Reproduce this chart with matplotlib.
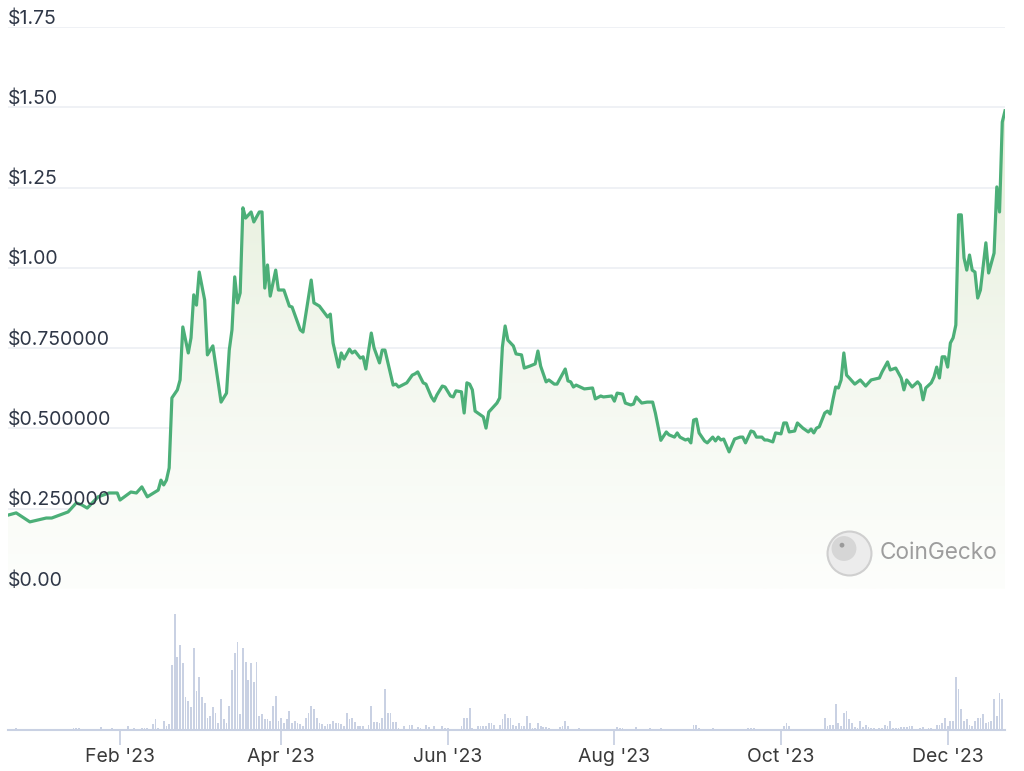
import numpy as np
import matplotlib
matplotlib.use('Agg')
import matplotlib.pyplot as plt
import matplotlib.dates as mdates
from matplotlib.colors import LinearSegmentedColormap

plt.rcParams['font.family'] = ['Inter', 'DejaVu Sans']

start = np.datetime64('2022-12-22')

# price, days since start -> USD
price_day = [0, 3, 8, 11, 14, 16, 22, 25, 27, 29, 33, 37, 40, 41, 45, 47, 49, 51, 55, 56,
             57, 58, 59, 60, 62, 63, 64, 66, 67, 68, 69, 70, 72, 73, 75, 78, 80, 81, 82, 83,
             84, 85, 86, 87, 89, 90, 92, 93, 94, 95, 96, 98, 99, 101, 103, 104, 107, 108, 111, 112,
             114, 117, 118, 119, 121, 122, 123, 125, 126, 127, 129, 130, 131, 133, 134, 136, 137, 138, 141, 142,
             143, 146, 148, 149, 150, 152, 153, 155, 156, 157, 159, 160, 162, 163, 164, 166, 167, 168, 169, 170,
             171, 172, 174, 175, 176, 178, 179, 180, 181, 182, 183, 185, 186, 188, 189, 191, 193, 194, 195, 197,
             198, 200, 201, 204, 205, 206, 207, 208, 211, 214, 215, 217, 218, 221, 222, 223, 225, 226, 228, 229,
             230, 232, 234, 236, 237, 239, 241, 242, 244, 245, 246, 248, 249, 250, 251, 252, 253, 255, 256, 258,
             259, 260, 261, 262, 264, 266, 268, 269, 270, 272, 273, 274, 276, 277, 278, 280, 281, 283, 284, 285,
             286, 288, 289, 291, 293, 294, 295, 296, 297, 299, 300, 301, 302, 303, 304, 305, 306, 307, 308, 310,
             312, 314, 316, 319, 320, 322, 323, 325, 327, 328, 329, 331, 333, 334, 335, 336, 338, 339, 340, 341,
             342, 343, 344, 345, 346, 347, 348, 349, 350, 351, 352, 353, 354, 355, 356, 358, 359, 361, 362, 363,
             364, 365]
price_usd = [0.230, 0.237, 0.209, 0.215, 0.221, 0.221, 0.240, 0.268, 0.262, 0.252, 0.287, 0.299, 0.299, 0.277, 0.302, 0.299, 0.318, 0.287, 0.308, 0.339,
             0.324, 0.339, 0.377, 0.595, 0.620, 0.651, 0.816, 0.735, 0.782, 0.916, 0.884, 0.987, 0.900, 0.729, 0.757, 0.582, 0.610, 0.744, 0.807, 0.972,
             0.891, 0.922, 1.187, 1.155, 1.174, 1.143, 1.174, 1.174, 0.937, 1.009, 0.912, 0.993, 0.931, 0.931, 0.881, 0.878, 0.807, 0.800, 0.962, 0.891,
             0.881, 0.847, 0.856, 0.766, 0.691, 0.735, 0.716, 0.747, 0.735, 0.741, 0.719, 0.723, 0.685, 0.797, 0.751, 0.704, 0.744, 0.744, 0.635, 0.638,
             0.629, 0.642, 0.666, 0.670, 0.676, 0.642, 0.638, 0.598, 0.585, 0.604, 0.632, 0.629, 0.601, 0.598, 0.617, 0.614, 0.548, 0.642, 0.638, 0.620,
             0.554, 0.548, 0.536, 0.501, 0.551, 0.570, 0.579, 0.595, 0.754, 0.819, 0.775, 0.757, 0.732, 0.729, 0.688, 0.694, 0.701, 0.741, 0.694, 0.645,
             0.651, 0.638, 0.638, 0.685, 0.648, 0.645, 0.629, 0.635, 0.623, 0.626, 0.592, 0.601, 0.598, 0.601, 0.585, 0.610, 0.607, 0.579, 0.573, 0.576,
             0.598, 0.579, 0.582, 0.582, 0.548, 0.463, 0.489, 0.480, 0.473, 0.486, 0.473, 0.464, 0.467, 0.455, 0.526, 0.529, 0.486, 0.461, 0.455, 0.473,
             0.461, 0.473, 0.464, 0.467, 0.427, 0.467, 0.473, 0.473, 0.455, 0.492, 0.489, 0.473, 0.473, 0.464, 0.464, 0.458, 0.486, 0.483, 0.517, 0.517,
             0.489, 0.492, 0.517, 0.501, 0.489, 0.498, 0.486, 0.501, 0.505, 0.548, 0.554, 0.545, 0.589, 0.629, 0.626, 0.651, 0.735, 0.666, 0.657, 0.638,
             0.651, 0.632, 0.651, 0.657, 0.676, 0.707, 0.682, 0.688, 0.657, 0.620, 0.651, 0.629, 0.645, 0.635, 0.589, 0.626, 0.642, 0.660, 0.691, 0.657,
             0.723, 0.723, 0.691, 0.766, 0.782, 0.822, 1.165, 1.165, 1.031, 0.993, 1.040, 0.993, 0.987, 0.906, 0.931, 1.078, 0.984, 1.046, 1.252, 1.174,
             1.454, 1.489]

# volume, days since start -> relative units
vol_day = [3, 24, 25, 26, 34, 38, 44, 46, 49, 50, 51, 53, 54, 55, 57, 58, 59, 60, 61, 62,
           63, 64, 65, 66, 67, 68, 69, 70, 71, 72, 73, 74, 75, 76, 77, 78, 79, 80, 81, 82,
           83, 84, 85, 86, 87, 88, 89, 90, 91, 92, 93, 94, 95, 96, 97, 98, 99, 100, 101, 102,
           103, 104, 105, 106, 107, 108, 109, 110, 111, 112, 113, 114, 115, 116, 117, 118, 119, 120, 121, 122,
           123, 124, 125, 126, 127, 128, 129, 130, 132, 133, 134, 135, 136, 137, 138, 139, 140, 141, 142, 143,
           145, 147, 148, 150, 151, 153, 154, 156, 159, 160, 161, 166, 167, 168, 169, 170, 172, 173, 174, 175,
           176, 177, 178, 180, 181, 182, 183, 184, 185, 186, 187, 188, 189, 190, 191, 192, 193, 194, 195, 196,
           197, 198, 202, 203, 204, 205, 209, 223, 224, 225, 230, 235, 239, 251, 252, 253, 258, 271, 272, 273,
           284, 285, 286, 299, 300, 301, 302, 303, 304, 305, 306, 307, 308, 309, 310, 311, 312, 313, 314, 315,
           316, 317, 319, 320, 321, 322, 323, 324, 325, 326, 327, 328, 329, 330, 331, 334, 335, 337, 338, 340,
           341, 342, 343, 344, 345, 346, 347, 348, 349, 350, 351, 352, 353, 354, 355, 356, 357, 358, 359, 360,
           361, 362, 363, 364]
vol_m = [2, 2, 2, 2, 3, 2, 4, 2, 2, 2, 2, 6, 11, 2, 9, 4, 6, 65, 116, 73,
         85, 67, 33, 29, 23, 82, 39, 53, 33, 27, 12, 14, 23, 17, 7, 31, 11, 7, 24, 60,
         77, 88, 16, 82, 68, 50, 67, 48, 68, 14, 16, 11, 11, 9, 24, 34, 9, 12, 7, 11,
         19, 7, 9, 7, 6, 4, 12, 17, 24, 21, 12, 7, 6, 4, 6, 6, 9, 7, 7, 6,
         4, 17, 11, 12, 8, 4, 4, 4, 5, 24, 8, 8, 7, 12, 41, 17, 17, 8, 8, 2,
         4, 5, 5, 3, 2, 5, 3, 4, 4, 2, 2, 4, 12, 12, 22, 2, 4, 4, 4, 4,
         7, 7, 5, 5, 11, 16, 12, 12, 5, 4, 7, 4, 4, 14, 7, 2, 2, 7, 4, 3,
         3, 2, 3, 4, 9, 4, 2, 3, 2, 2, 3, 2, 2, 5, 5, 2, 2, 2, 2, 2,
         4, 7, 4, 12, 4, 5, 5, 26, 7, 4, 17, 19, 11, 7, 3, 2, 9, 3, 5, 3,
         2, 2, 2, 2, 5, 4, 9, 2, 2, 2, 3, 3, 3, 4, 4, 2, 3, 2, 2, 5,
         5, 7, 12, 4, 9, 9, 53, 41, 21, 9, 11, 5, 4, 9, 12, 12, 16, 7, 8, 9,
         31, 14, 37, 31]

tick_dates = ['2023-02-01', '2023-04-01', '2023-06-01', '2023-08-01', '2023-10-01', '2023-12-01']
tick_labels = ["Feb '23", "Apr '23", "Jun '23", "Aug '23", "Oct '23", "Dec '23"]
grid_levels = [0.0, 0.25, 0.5, 0.75, 1.0, 1.25, 1.5, 1.75]
grid_labels = ['$0.00', '$0.250000', '$0.500000', '$0.750000', '$1.00', '$1.25', '$1.50', '$1.75']

line_green = '#4caf78'
text_col = '#2f3747'
grid_col = '#eef0f5'
vol_col = '#c9d1e3'

p_dates = start + np.array(price_day, dtype='timedelta64[D]')
v_dates = start + np.array(vol_day, dtype='timedelta64[D]')
x0 = mdates.date2num(start)
x1 = mdates.date2num(start + np.timedelta64(365, 'D'))

fig = plt.figure(figsize=(10.24, 7.71), dpi=100)
W, H = 1024, 771
ax = fig.add_axes([8 / W, 1 - 589 / H, 997 / W, 562 / H])
ax2 = fig.add_axes([8 / W, 1 - 730 / H, 997 / W, 130 / H])

# price panel
for lvl in grid_levels:
    ax.axhline(lvl, color=grid_col, lw=1.3, zorder=0)
for lvl, lab in zip(grid_levels, grid_labels):
    ax.annotate(lab, (0, lvl), xycoords=('axes fraction', 'data'), xytext=(0, 2.5),
                textcoords='offset points', ha='left', va='baseline',
                fontsize=14, color=text_col, zorder=5)

pts = mdates.date2num(p_dates)
fill = ax.fill_between(pts, price_usd, 0, color='none', lw=0)
cmap = LinearSegmentedColormap.from_list('gg', ['#fdfefc', '#f3f7ee', '#e3eed8'])
grad = np.linspace(0, 1, 256).reshape(-1, 1)
im = ax.imshow(grad, cmap=cmap, aspect='auto', origin='lower',
               extent=[x0, x1, 0, max(price_usd)], zorder=1)
im.set_clip_path(fill.get_paths()[0], transform=ax.transData)
ax.plot(pts, price_usd, color=line_green, lw=2.3, solid_joinstyle='round', zorder=3)

ax.set_xlim(x0, x1)
ax.set_ylim(0, 1.75)
ax.axis('off')

# watermark
ax.scatter([0.8435], [0.064], s=1000, transform=ax.transAxes, facecolor='#ececec',
           edgecolor='#cfcfcf', lw=1.5, zorder=4)
ax.scatter([0.8385], [0.072], s=320, transform=ax.transAxes, facecolor='#d6d6d6',
           edgecolor='none', zorder=4)
ax.scatter([0.8365], [0.078], s=12, transform=ax.transAxes, facecolor='#9a9a9a',
           edgecolor='none', zorder=5)
ax.text(0.8745, 0.064, 'CoinGecko', transform=ax.transAxes, ha='left', va='center',
        fontsize=16.3, color='#9d9d9d', zorder=5)

# volume panel
ax2.bar(mdates.date2num(v_dates), vol_m, width=0.65, color=vol_col, lw=0)
ax2.set_xlim(x0, x1)
ax2.set_ylim(0, max(vol_m) * 130 / 116)
for s in ['top', 'left', 'right']:
    ax2.spines[s].set_visible(False)
ax2.spines['bottom'].set_color(vol_col)
ax2.spines['bottom'].set_linewidth(1.5)
ax2.set_yticks([])
ax2.set_xticks(mdates.date2num(np.array(tick_dates, dtype='datetime64[D]')))
ax2.set_xticklabels(tick_labels)
ax2.tick_params(axis='x', length=11, width=1.3, color=vol_col, labelsize=14,
                labelcolor='#3a3a3a', pad=2)
ax2.patch.set_alpha(0)

fig.savefig('out.png', dpi=100)
